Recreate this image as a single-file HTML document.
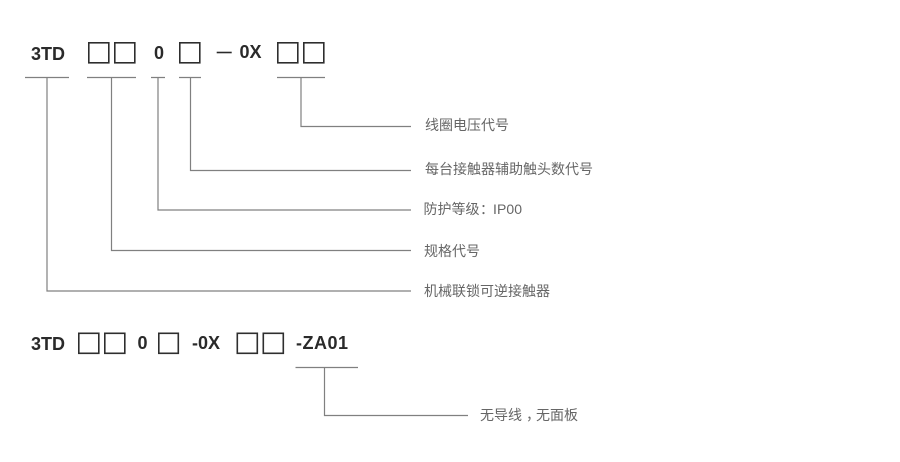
<!DOCTYPE html>
<html>
<head>
<meta charset="utf-8">
<style>
html,body{margin:0;padding:0;background:#fff;width:900px;height:462px;overflow:hidden}
svg{display:block}
.b{font-family:"Liberation Sans",sans-serif;font-weight:700;font-size:18px;fill:#2a2a2a}
.t{font-family:"Liberation Sans","Noto Sans CJK SC",sans-serif;font-size:14px;fill:#666}
.l{stroke:#808080;stroke-width:1.2;fill:none}
.s{stroke:#2e2e2e;stroke-width:1.6;fill:#fff}
</style>
</head>
<body>
<svg width="900" height="462" viewBox="0 0 900 462" xmlns="http://www.w3.org/2000/svg">
  <text class="b" x="31" y="60">3TD</text>
  <rect class="s" x="88.8" y="42.8" width="20" height="20"/>
  <rect class="s" x="114.8" y="42.8" width="20" height="20"/>
  <text class="b" x="154" y="59">0</text>
  <rect class="s" x="179.8" y="42.8" width="20" height="20"/>
  <path d="M216.7 52.5H231.7" stroke="#2a2a2a" stroke-width="1.6" fill="none"/>
  <text class="b" x="239.5" y="58">0X</text>
  <rect class="s" x="277.8" y="42.8" width="20" height="20"/>
  <rect class="s" x="303.8" y="42.8" width="20" height="20"/>

  <path class="l" d="M25 77.5H69M87 77.5H136M151 77.5H165M179 77.5H201M277 77.5H325"/>
  <path class="l" d="M301 77.5V126.5H411"/>
  <path class="l" d="M190.5 77.5V170.5H411"/>
  <path class="l" d="M158 77.5V210H411"/>
  <path class="l" d="M111.5 77.5V250.5H411"/>
  <path class="l" d="M47 77.5V291H411"/>

  <text class="t" x="425" y="130">线圈电压代号</text>
  <text class="t" x="425" y="174">每台接触器辅助触头数代号</text>
  <text class="t" x="423.5" y="214">防护等级<tspan dx="-3" dy="1" font-family="'Noto Sans CJK TC',sans-serif">：</tspan><tspan x="493" y="214" textLength="29">IP00</tspan></text>
  <text class="t" x="424" y="256">规格代号</text>
  <text class="t" x="424" y="296">机械联锁可逆接触器</text>

  <text class="b" x="31" y="350">3TD</text>
  <rect class="s" x="78.8" y="333.3" width="20" height="20"/>
  <rect class="s" x="104.8" y="333.3" width="20" height="20"/>
  <text class="b" x="137.5" y="349">0</text>
  <rect class="s" x="158.8" y="333.3" width="19.5" height="20"/>
  <text class="b" x="192" y="349">-0X</text>
  <rect class="s" x="237.3" y="333.3" width="20" height="20"/>
  <rect class="s" x="263.3" y="333.3" width="20" height="20"/>
  <text class="b" x="296" y="349" textLength="52">-ZA01</text>

  <path class="l" d="M295.5 367.5H358M324.5 367.5V415.5H468"/>
  <text class="t" x="480" y="420">无导线<tspan dx="4">，</tspan><tspan x="536">无面板</tspan></text>
</svg>
</body>
</html>
